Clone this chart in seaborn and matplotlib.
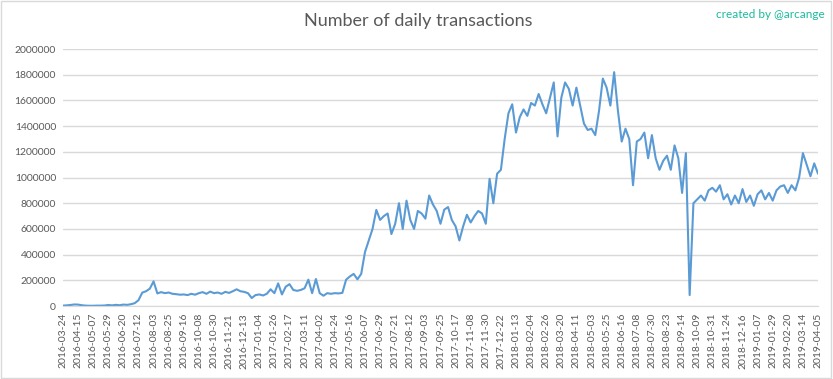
import numpy as np
import pandas as pd
import seaborn as sns
import matplotlib.pyplot as plt
from matplotlib.patches import Rectangle

# dates shown on the x axis (every 22nd day of the series)
tick_labels = ['2016-03-24', '2016-04-15', '2016-05-07', '2016-05-29', '2016-06-20', '2016-07-12',
               '2016-08-03', '2016-08-25', '2016-09-16', '2016-10-08', '2016-10-30', '2016-11-21',
               '2016-12-13', '2017-01-04', '2017-01-26', '2017-02-17', '2017-03-11', '2017-04-02',
               '2017-04-24', '2017-05-16', '2017-06-07', '2017-06-29', '2017-07-21', '2017-08-12',
               '2017-09-03', '2017-09-25', '2017-10-17', '2017-11-08', '2017-11-30', '2017-12-22',
               '2018-01-13', '2018-02-04', '2018-02-26', '2018-03-20', '2018-04-11', '2018-05-03',
               '2018-05-25', '2018-06-16', '2018-07-08', '2018-07-30', '2018-08-23', '2018-09-14',
               '2018-10-09', '2018-10-31', '2018-11-24', '2018-12-16', '2019-01-07', '2019-01-29',
               '2019-02-20', '2019-03-14', '2019-04-05']

transactions = [
    3000, 5000, 8000, 12000, 11000, 6000, 3000, 2000,
    2000, 3000, 3000, 4000, 8000, 5000, 9000, 6000,
    11000, 9000, 14000, 22000, 45000, 104000, 115000, 135000,
    192000, 98000, 108000, 100000, 105000, 95000, 92000, 88000,
    90000, 85000, 95000, 88000, 100000, 108000, 95000, 112000,
    100000, 105000, 95000, 110000, 102000, 115000, 130000, 115000,
    110000, 100000, 62000, 85000, 90000, 82000, 95000, 130000,
    100000, 176000, 90000, 150000, 170000, 125000, 118000, 125000,
    138000, 205000, 100000, 210000, 100000, 80000, 100000, 95000,
    100000, 98000, 102000, 205000, 230000, 250000, 208000, 250000,
    420000, 510000, 600000, 748000, 670000, 700000, 720000, 560000,
    640000, 800000, 600000, 820000, 670000, 600000, 740000, 720000,
    680000, 860000, 790000, 740000, 640000, 750000, 770000, 670000,
    620000, 510000, 620000, 710000, 650000, 700000, 740000, 720000,
    640000, 990000, 800000, 1030000, 1060000, 1300000, 1500000, 1570000,
    1350000, 1470000, 1530000, 1480000, 1580000, 1560000, 1650000, 1570000,
    1500000, 1620000, 1740000, 1320000, 1620000, 1740000, 1690000, 1560000,
    1700000, 1560000, 1420000, 1370000, 1380000, 1330000, 1520000, 1770000,
    1700000, 1560000, 1820000, 1520000, 1280000, 1380000, 1300000, 940000,
    1280000, 1300000, 1350000, 1150000, 1330000, 1150000, 1060000, 1130000,
    1170000, 1060000, 1250000, 1150000, 880000, 1190000, 85000, 800000,
    830000, 860000, 820000, 900000, 920000, 890000, 940000, 830000,
    870000, 790000, 860000, 800000, 910000, 810000, 860000, 780000,
    870000, 900000, 830000, 880000, 820000, 900000, 930000, 940000,
    880000, 940000, 900000, 1000000, 1190000, 1100000, 1010000, 1110000,
    1030000,
]

df = pd.DataFrame({'sample': np.arange(len(transactions)), 'tx': transactions})

sns.set_style('white')
plt.rcParams['font.family'] = ['Lato', 'DejaVu Sans']

fig = plt.figure(figsize=(8.33, 3.79), dpi=100)
ax = fig.add_axes([0.0756, 0.1926, 0.9064, 0.678])

sns.lineplot(data=df, x='sample', y='tx', color='#5b9bd5', linewidth=1.5, ax=ax)

ax.set_xlim(0, len(transactions) - 1)
ax.set_ylim(0, 2000000)
ax.set_yticks(np.arange(0, 2000001, 200000))
ax.set_yticklabels([str(v) for v in range(0, 2000001, 200000)], fontsize=7.5, color='#595959')
ax.set_xticks(np.arange(0, len(transactions), 4))
ax.set_xticklabels(tick_labels, rotation=90, fontsize=7.5, color='#595959')
ax.tick_params(axis='both', length=0, pad=5)
ax.grid(axis='y', color='#d9d9d9', linewidth=1)
ax.set_xlabel('')
ax.set_ylabel('')
for side in ['top', 'right', 'left']:
    ax.spines[side].set_visible(False)
ax.spines['bottom'].set_color('#d9d9d9')

fig.text(0.502, 0.945, 'Number of daily transactions', ha='center', va='center', fontsize=13,
         color='#595959')
fig.text(0.99, 0.962, 'created by @arcange', ha='right', va='center', fontsize=8.5, color='#1abc9c')
fig.patches.append(Rectangle((0.001, 0.002), 0.997, 0.995, transform=fig.transFigure,
                             fill=False, edgecolor='#d9d9d9', linewidth=1))

fig.savefig('out.png', dpi=100)
